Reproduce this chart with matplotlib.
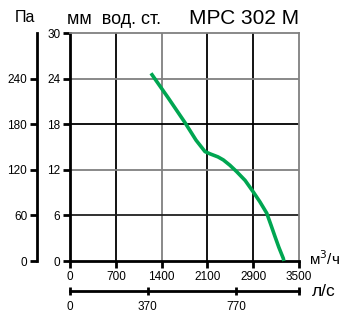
import numpy as np
import matplotlib
matplotlib.use("Agg")
import matplotlib.pyplot as plt

plt.rcParams['font.family'] = ['Liberation Sans', 'DejaVu Sans']

# data
flow_ticks = [0, 700, 1400, 2100, 2900, 3500]          # м3/ч, equally spaced on the chart
ls_labels = ['0', '370', '770']                        # л/с
ls_pos = [0, 1.70, 3.63]                               # position in grid cells
mm_ticks = [0, 6, 12, 18, 24, 30]
pa_ticks = [0, 60, 120, 180, 240]

curve_flow = [1238, 1498, 1758, 1926, 2063, 2146, 2284, 2378, 2493, 2612,
              2759, 2900, 2987, 3077, 3134, 3186, 3236, 3294, 3302]
curve_mm = [24.7, 21.5, 18.2, 15.9, 14.4, 14.1, 13.7, 13.3, 12.6, 11.75,
            10.6, 9.1, 7.8, 6.3, 4.7, 3.2, 1.8, 0.35, 0.0]

green = '#00a651'
W, H = 346, 321
fig = plt.figure(figsize=(W / 100, H / 100), dpi=100)

L, R, B, T = 70, 299, 261, 33
ax = fig.add_axes([L / W, 1 - B / H, (R - L) / W, (B - T) / H])

xpos = np.interp(curve_flow, flow_ticks, np.arange(len(flow_ticks)))
ax.set_xlim(0, 5)
ax.set_ylim(0, 30)

# grid
vcol = {1: 'black', 2: '#808080', 3: 'black', 4: 'black'}
for i, c in vcol.items():
    ax.axvline(i, color=c, lw=1.3, zorder=1)
hcol = {6: '#202020', 12: '#808080', 18: 'black', 24: '#808080'}
for v, c in hcol.items():
    ax.axhline(v, color=c, lw=1.3, zorder=1)

ax.plot(xpos, curve_mm, color=green, lw=2.6, solid_capstyle='butt',
        solid_joinstyle='round', zorder=3, clip_on=False)

for s in ['top', 'right']:
    ax.spines[s].set_color('#808080')
    ax.spines[s].set_linewidth(1.3)
for s in ['left', 'bottom']:
    ax.spines[s].set_color('black')
    ax.spines[s].set_linewidth(2)

ax.set_xticks(range(len(flow_ticks)))
ax.set_xticklabels([str(v) for v in flow_ticks], fontsize=8.5)
ax.set_yticks(mm_ticks)
ax.set_yticklabels([str(v) for v in mm_ticks], fontsize=8.5)
ax.tick_params(axis='both', direction='out', length=5, width=2, pad=2, color='black')

# Pa axis
pax = fig.add_axes([37 / W, 1 - B / H, 0.001, (B - T) / H])
pax.set_ylim(0, 30)
pax.set_xticks([])
for s in ['top', 'right', 'bottom']:
    pax.spines[s].set_visible(False)
pax.spines['left'].set_linewidth(2)
pax.set_yticks([v / 10 for v in pa_ticks])
pax.set_yticklabels([str(v) for v in pa_ticks], fontsize=8.5)
pax.tick_params(axis='y', direction='out', length=5, width=2, pad=2)
pax.patch.set_visible(False)

# л/с axis
lax = fig.add_axes([L / W, 1 - 291 / H, (R - L) / W, 0.001])
lax.set_xlim(0, 5)
lax.set_yticks([])
for s in ['top', 'right', 'left']:
    lax.spines[s].set_visible(False)
lax.spines['bottom'].set_linewidth(2)
lax.set_xticks(ls_pos + [5])
lax.set_xticklabels(ls_labels + [''], fontsize=8.5)
lax.tick_params(axis='x', direction='inout', length=6, width=2, pad=4)
lax.patch.set_visible(False)

fig.text(15 / W, 1 - 18 / H, 'Па', fontsize=11.5, va='center')
fig.text(67 / W, 1 - 19 / H, 'мм  вод. ст.', fontsize=13, va='center')
fig.text(189 / W, 1 - 18 / H, 'МРС 302 М', fontsize=15, va='center')
fig.text(309 / W, 1 - 259 / H, 'м$^3$/ч', fontsize=11, va='center')
fig.text(312 / W, 1 - 291 / H, 'л/с', fontsize=12.5, va='center')

fig.savefig('out.png', dpi=100)
